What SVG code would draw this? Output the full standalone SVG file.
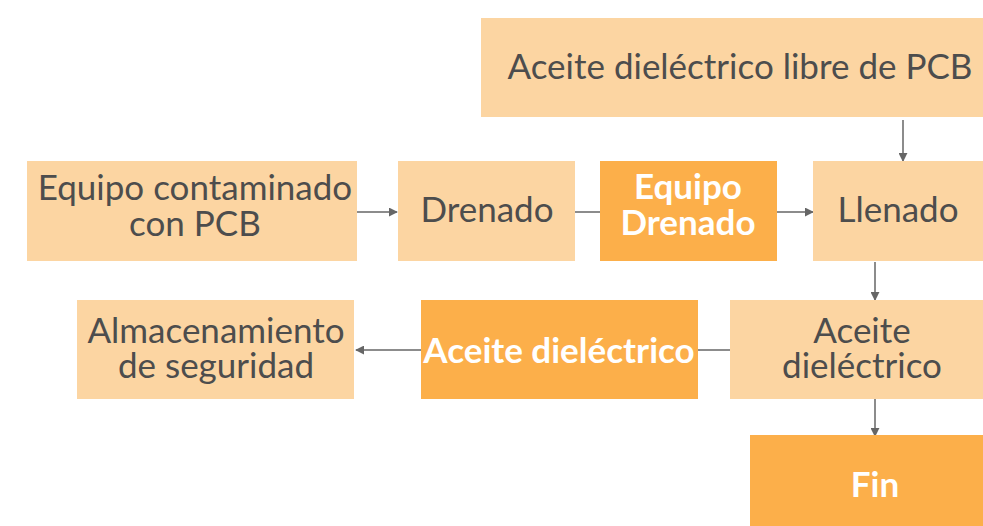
<svg xmlns="http://www.w3.org/2000/svg" width="983" height="526" viewBox="0 0 983 526">
<style>
.l{fill:#FCD5A2}
.d{fill:#FCAF4A}
text{font-family:Lato,"Open Sans","Liberation Sans",sans-serif;font-size:35px;text-anchor:middle}
.t{fill:#4D4D4D}
.w{fill:#FFFFFF;font-weight:bold}
.c{stroke:#666666;stroke-width:1.5;fill:none}
</style>
<defs>
<marker id="a" viewBox="0 0 10 10" refX="9" refY="5" markerWidth="9" markerHeight="9" markerUnits="userSpaceOnUse" orient="auto">
<path d="M0,0 L10,5 L0,10 z" fill="#666666"/>
</marker>
</defs>
<rect width="983" height="526" fill="#FFFFFF"/>
<g id="connectors">
<line class="c" x1="903" y1="120" x2="903" y2="161" marker-end="url(#a)"/>
<line class="c" x1="357" y1="212" x2="397" y2="212" marker-end="url(#a)"/>
<line class="c" x1="575" y1="212" x2="600" y2="212"/>
<line class="c" x1="777" y1="212" x2="813" y2="212" marker-end="url(#a)"/>
<line class="c" x1="875" y1="262" x2="875" y2="300" marker-end="url(#a)"/>
<line class="c" x1="698" y1="350" x2="730" y2="350"/>
<line class="c" x1="421" y1="350" x2="356" y2="350" marker-end="url(#a)"/>
<line class="c" x1="875" y1="399" x2="875" y2="436" marker-end="url(#a)"/>
</g>
<g id="top"><rect class="l" x="481" y="18" width="502" height="99"/><text class="t" x="740" y="79">Aceite dieléctrico libre de PCB</text></g>
<g id="equipo"><rect class="l" x="27" y="161" width="330" height="100"/><text class="t" x="195" y="200">Equipo contaminado</text><text class="t" x="195" y="236">con PCB</text></g>
<g id="drenado"><rect class="l" x="398" y="161" width="177" height="100"/><text class="t" x="487" y="222">Drenado</text></g>
<g id="equipoDrenado"><rect class="d" x="600" y="161" width="177" height="100"/><text class="w" x="688" y="199">Equipo</text><text class="w" x="688" y="235">Drenado</text></g>
<g id="llenado"><rect class="l" x="813" y="161" width="170" height="100"/><text class="t" x="898" y="222">Llenado</text></g>
<g id="almacenamiento"><rect class="l" x="77" y="300" width="277" height="99"/><text class="t" x="216" y="343">Almacenamiento</text><text class="t" x="216" y="378">de seguridad</text></g>
<g id="aceiteD"><rect class="d" x="421" y="300" width="277" height="99"/><text class="w" x="559" y="363">Aceite dieléctrico</text></g>
<g id="aceiteL"><rect class="l" x="730" y="300" width="253" height="99"/><text class="t" x="862" y="343">Aceite</text><text class="t" x="862" y="378">dieléctrico</text></g>
<g id="fin"><rect class="d" x="750" y="435" width="233" height="91"/><text class="w" x="875" y="497">Fin</text></g>
</svg>
